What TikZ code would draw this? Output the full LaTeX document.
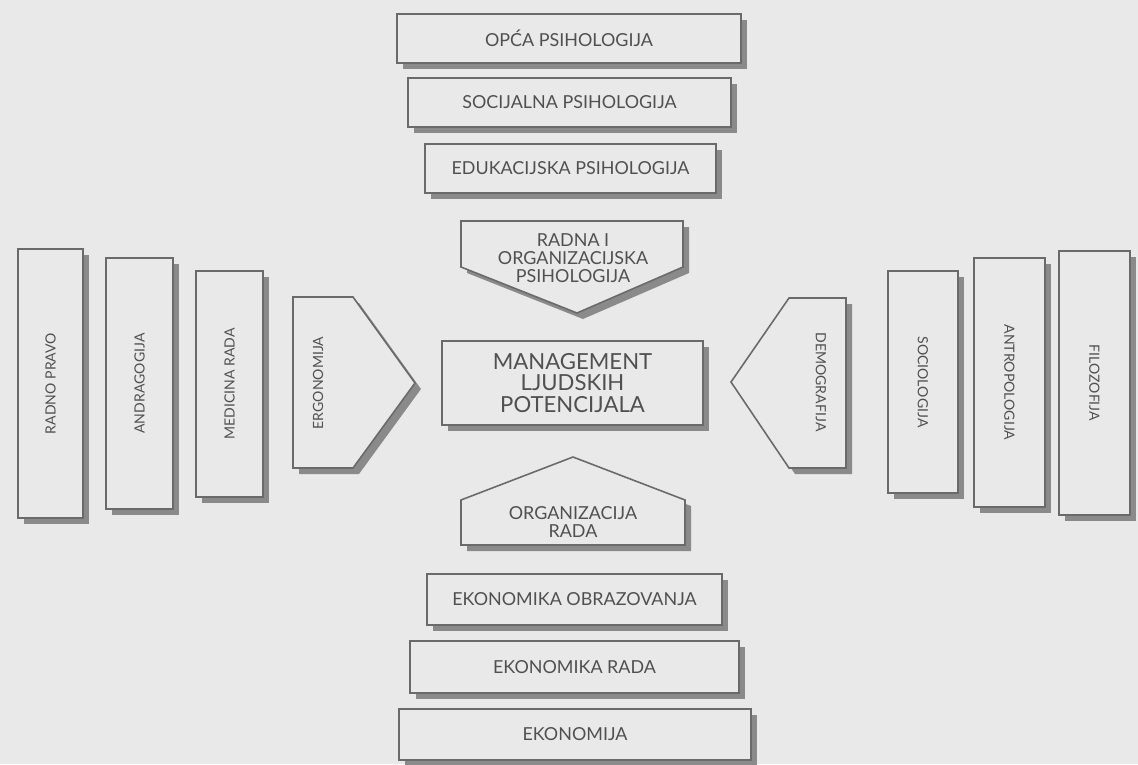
\documentclass[tikz,border=0pt]{standalone}
\usepackage{fontspec}
\setmainfont{Lato}
\usetikzlibrary{shadows}
\definecolor{paper}{HTML}{E9E9E9}
\definecolor{ink}{HTML}{505050}
\definecolor{edge}{HTML}{6A6A6A}
\definecolor{shade}{HTML}{8A8A8A}

\begin{document}
\begin{tikzpicture}[x=0.02cm,y=-0.02cm]
  \tikzstyle{box} =[draw=edge, line width=0.9pt, fill=paper, inner sep=0pt,
                    drop shadow={shadow xshift=0.12cm, shadow yshift=-0.12cm, opacity=1, fill=shade}]
  \tikzstyle{lbl} =[text=ink, font=\fontsize{10.2}{10.4}\selectfont, align=center, inner sep=0pt]
  \tikzstyle{vlbl}=[text=ink, font=\fontsize{8}{10}\selectfont, inner sep=0pt]
  \tikzstyle{big} =[text=ink, font=\fontsize{12.6}{12}\selectfont, align=center, inner sep=0pt]
  \fill[paper] (0,0) rectangle (1138,764);
  \useasboundingbox (0,0) rectangle (1138,764);
  % upper column
  \node[box, lbl, minimum width=6.88cm, minimum height=0.98cm](opca) at (569,38.5) {OPĆA PSIHOLOGIJA};
  \node[box, lbl, minimum width=6.46cm, minimum height=0.98cm](soc) at (569.5,102.5) {SOCIJALNA PSIHOLOGIJA};
  \node[box, lbl, minimum width=5.82cm, minimum height=0.98cm](edu) at (570.5,168.5) {EDUKACIJSKA PSIHOLOGIJA};
  \draw[box] (461,221) -- (683,221) -- (683,267) -- (577,313) -- (461,267) -- cycle;
  \node[lbl](radna) at (573,258) {RADNA I\\ORGANIZACIJSKA\\PSIHOLOGIJA};
  % centre
  \node[box, big, minimum width=5.22cm, minimum height=1.68cm](mlp) at (572.5,383) {MANAGEMENT\\LJUDSKIH\\POTENCIJALA};
  % lower column
  \draw[box] (573,457) -- (685,500) -- (685,545) -- (461,545) -- (461,500) -- cycle;
  \node[lbl](orgr) at (573,522) {ORGANIZACIJA\\RADA};
  \node[box, lbl, minimum width=5.9cm, minimum height=1.02cm](ekoo) at (574.5,599.5) {EKONOMIKA OBRAZOVANJA};
  \node[box, lbl, minimum width=6.58cm, minimum height=1.04cm](ekor) at (574.5,667) {EKONOMIKA RADA};
  \node[box, lbl, minimum width=7.04cm, minimum height=1.02cm](eko) at (575,734.5) {EKONOMIJA};
  % left side
  \node[box, minimum width=1.3cm, minimum height=5.38cm](pravo) at (50.5,383.5) {};
  \node[vlbl, rotate=90](pravot) at (pravo) {RADNO PRAVO};
  \node[box, minimum width=1.34cm, minimum height=5.02cm](andr) at (139.5,383.5) {};
  \node[vlbl, rotate=90](andrt) at (andr) {ANDRAGOGIJA};
  \node[box, minimum width=1.34cm, minimum height=4.52cm](med) at (229.5,384) {};
  \node[vlbl, rotate=90](medt) at (med) {MEDICINA RADA};
  \draw[box] (293,297) -- (353,297) -- (415,383) -- (353,468) -- (293,468) -- cycle;
  \node[vlbl, rotate=90](ergo) at (318,383) {ERGONOMIJA};
  % right side
  \draw[box] (731,382) -- (789,298) -- (846,298) -- (846,468) -- (789,468) -- cycle;
  \node[vlbl, rotate=-90](demo) at (821,382) {DEMOGRAFIJA};
  \node[box, minimum width=1.4cm, minimum height=4.44cm](socio) at (923,382) {};
  \node[vlbl, rotate=-90](sociot) at (socio) {SOCIOLOGIJA};
  \node[box, minimum width=1.42cm, minimum height=4.98cm](antro) at (1009.5,382.5) {};
  \node[vlbl, rotate=-90](antrot) at (antro) {ANTROPOLOGIJA};
  \node[box, minimum width=1.42cm, minimum height=5.28cm](filo) at (1094.5,383) {};
  \node[vlbl, rotate=-90](filot) at (filo) {FILOZOFIJA};
\end{tikzpicture}
\end{document}
